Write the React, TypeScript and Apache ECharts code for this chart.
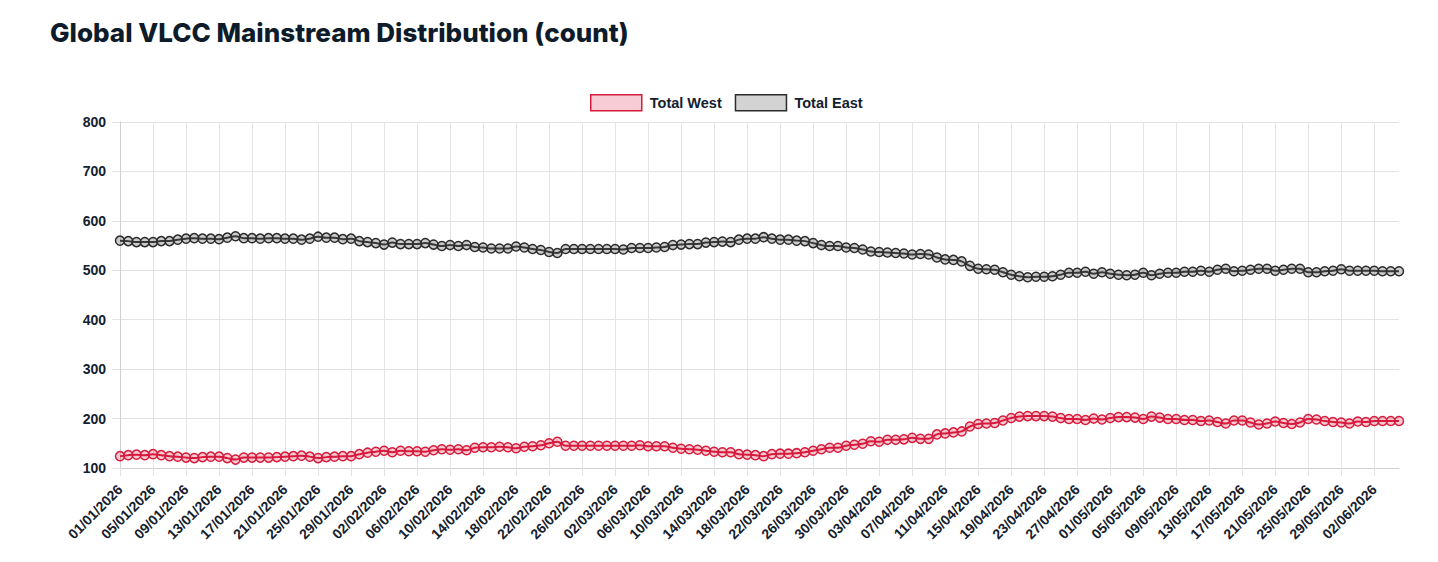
import React, { useEffect, useRef } from "react";
import * as echarts from "echarts";

const TITLE = "Global VLCC Mainstream Distribution (count)";
const START_DATE = "2026-01-01";

const totalWest = [
  124, 126, 127, 126, 128, 126, 124, 123, 121, 120, 122, 123, 123, 120, 117, 121, 121, 121, 121, 122,
  123, 124, 125, 123, 120, 122, 123, 124, 124, 128, 131, 133, 135, 132, 135, 134, 134, 133, 136, 138,
  137, 138, 136, 141, 142, 142, 143, 142, 140, 143, 144, 146, 150, 153, 145, 145, 145, 145, 145, 145,
  145, 145, 145, 146, 144, 144, 144, 141, 139, 138, 137, 135, 133, 132, 132, 128, 127, 126, 124, 128,
  129, 129, 130, 132, 135, 138, 141, 141, 145, 147, 149, 154, 153, 157, 157, 158, 161, 159, 159, 168,
  170, 172, 174, 184, 189, 190, 191, 196, 201, 204, 205, 205, 205, 204, 201, 199, 199, 197, 200, 198,
  201, 203, 203, 202, 199, 204, 202, 199, 199, 197, 197, 195, 196, 193, 190, 196, 196, 192, 188, 190,
  194, 191, 189, 192, 199, 198, 195, 193, 192, 190, 194, 193, 195, 195, 195, 195,
];

const totalEast = [
  560, 559, 557, 557, 557, 559, 559, 562, 564, 565, 564, 564, 563, 566, 569, 565, 565, 564, 565, 565,
  564, 564, 562, 564, 568, 566, 566, 563, 564, 559, 557, 555, 552, 556, 553, 553, 553, 555, 552, 549,
  551, 549, 551, 547, 546, 544, 544, 544, 548, 546, 543, 541, 537, 535, 543, 543, 543, 543, 543, 543,
  543, 542, 545, 545, 545, 546, 547, 551, 552, 553, 553, 556, 557, 558, 557, 562, 564, 564, 567, 564,
  562, 562, 560, 559, 555, 551, 549, 549, 546, 545, 542, 538, 537, 536, 535, 534, 532, 533, 532, 526,
  522, 521, 518, 509, 503, 502, 501, 496, 491, 488, 486, 487, 487, 488, 491, 495, 495, 497, 493, 496,
  493, 491, 490, 491, 495, 490, 493, 495, 495, 497, 497, 499, 497, 501, 503, 498, 499, 501, 503, 503,
  499, 501, 503, 503, 496, 496, 498, 499, 502, 499, 499, 499, 499, 498, 498, 498,
];

function buildDates(start: string, count: number): string[] {
  const out: string[] = [];
  const d0 = new Date(start + "T00:00:00Z");
  for (let i = 0; i < count; i++) {
    const d = new Date(d0.getTime() + i * 86400000);
    const dd = String(d.getUTCDate()).padStart(2, "0");
    const mm = String(d.getUTCMonth() + 1).padStart(2, "0");
    out.push(`${dd}/${mm}/${d.getUTCFullYear()}`);
  }
  return out;
}

const dates = buildDates(START_DATE, totalWest.length);

const WEST_LINE = "#d81b3c";
const WEST_FILL = "rgba(220,20,60,0.22)";
const EAST_LINE = "#2b2b2b";
const EAST_FILL = "rgba(90,90,90,0.3)";
const TEXT = "#14202e";
const GRID = "#e3e3e3";
const AXIS_FONT = "'Liberation Sans', Arial, Helvetica, sans-serif";

export default function App() {
  const ref = useRef<HTMLDivElement>(null);
  useEffect(() => {
    if (!ref.current) return;
    const chart = echarts.init(ref.current, null, { renderer: "svg" });
    chart.setOption({
      animation: false,
      backgroundColor: "#ffffff",
      title: {
        text: TITLE,
        left: 37,
        top: 6,
        textStyle: {
          fontFamily: "Inter, 'Noto Sans', sans-serif",
          fontWeight: 800,
          fontSize: 26,
          color: "#0d1b2a",
        },
      },
      legend: {
        left: 577,
        top: 81,
        itemWidth: 51,
        itemHeight: 16,
        itemGap: 13,
        icon: "rect",
        textStyle: {
          fontFamily: AXIS_FONT,
          fontWeight: "bold",
          fontSize: 14.5,
          color: TEXT,
          padding: [0, 0, 0, 3],
        },
        data: [
          { name: "Total West", itemStyle: { color: "#f7ccd5", borderColor: WEST_LINE, borderWidth: 1.5 } },
          { name: "Total East", itemStyle: { color: "#d3d3d3", borderColor: EAST_LINE, borderWidth: 1.5 } },
        ],
      },
      grid: { left: 112, right: 31, top: 114, bottom: 86, containLabel: false },
      xAxis: {
        type: "category",
        data: dates,
        boundaryGap: false,
        axisLine: { lineStyle: { color: "#cfcfcf", width: 1 } },
        axisTick: { show: true, interval: 3, length: 8, lineStyle: { color: GRID } },
        axisLabel: {
          interval: 3,
          rotate: 45,
          margin: 19,
          fontFamily: AXIS_FONT,
          fontWeight: "bold",
          fontSize: 14,
          color: TEXT,
        },
        splitLine: { show: true, interval: 3, lineStyle: { color: GRID, width: 1 } },
      },
      yAxis: {
        type: "value",
        min: 100,
        max: 800,
        interval: 100,
        axisLine: { show: true, lineStyle: { color: "#cfcfcf", width: 1 } },
        axisTick: { show: true, length: 8, lineStyle: { color: GRID } },
        axisLabel: {
          margin: 14,
          fontFamily: AXIS_FONT,
          fontWeight: "bold",
          fontSize: 14,
          color: TEXT,
        },
        splitLine: { show: true, lineStyle: { color: GRID, width: 1 } },
      },
      series: [
        {
          name: "Total West",
          type: "line",
          data: totalWest,
          smooth: 0.35,
          symbol: "circle",
          symbolSize: 9,
          showAllSymbol: true,
          lineStyle: { color: WEST_LINE, width: 2 },
          itemStyle: { color: WEST_FILL, borderColor: WEST_LINE, borderWidth: 1.5 },
        },
        {
          name: "Total East",
          type: "line",
          data: totalEast,
          smooth: 0.35,
          symbol: "circle",
          symbolSize: 9,
          showAllSymbol: true,
          lineStyle: { color: EAST_LINE, width: 2 },
          itemStyle: { color: EAST_FILL, borderColor: EAST_LINE, borderWidth: 1.5 },
        },
      ],
    });
    return () => chart.dispose();
  }, []);
  return <div ref={ref} style={{ width: 1422, height: 546 }} />;
}
